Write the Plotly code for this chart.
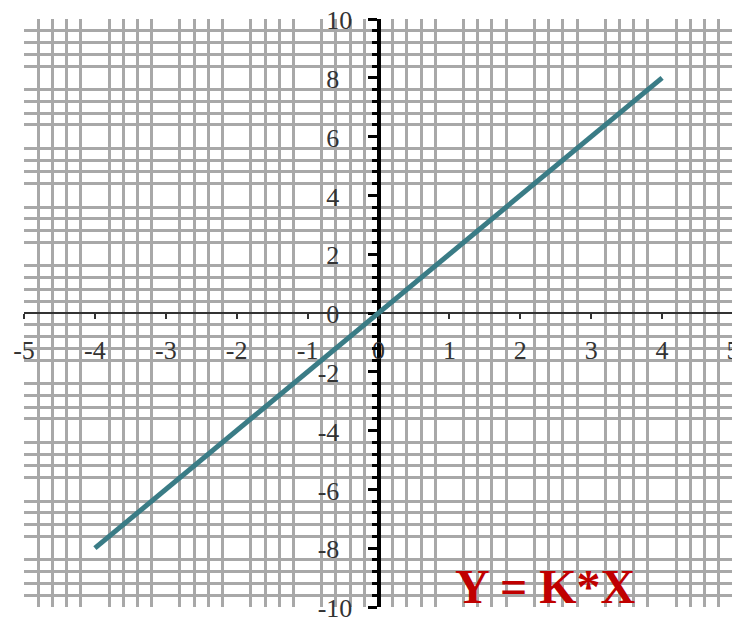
import plotly.graph_objects as go

# line data
x_vals = [-4, 4]
y_vals = [-8, 8]

# axis ticks
x_ticks = [-5, -4, -3, -2, -1, 0, 1, 2, 3, 4, 5]
x_labels = ["-5", "-4", "-3", "-2", "-1", "0", "1", "2", "3", "4", "5"]
y_ticks = [-10, -8, -6, -4, -2, 0, 2, 4, 6, 8, 10]
# en spaces pad single digits so labels line up on their left edge
y_labels = ["-10", "-8\u2002", "-6\u2002", "-4\u2002", "-2\u2002", "0\u2002",
            "2\u2002", "4\u2002", "6\u2002", "8\u2002", "10"]

title_text = "Y = K*X"

# minor grid: every 0.2 on x, every 0.4 on y, skipping the labelled ticks
x_minor = [round(i * 0.2, 1) for i in range(-25, 26) if i % 5]
y_minor = [round(i * 0.4, 1) for i in range(-25, 26) if i % 5]

serif = "Liberation Serif"
grid_col = "#a8a8a8"

fig = go.Figure()
fig.add_trace(go.Scatter(
    x=x_vals, y=y_vals, mode="lines",
    line=dict(color="#3a7c86", width=5),
    showlegend=False, hoverinfo="skip",
))

# the page body adds an 8px offset, so the figure is 8px smaller each way
fig.update_layout(
    width=732, height=614,
    margin=dict(l=16, r=7, t=11, b=15),
    paper_bgcolor="white", plot_bgcolor="white",
    xaxis=dict(
        range=[-5, 5], anchor="free", position=0.5, automargin=False,
        tickmode="array", tickvals=x_ticks, ticktext=x_labels,
        ticks="outside", ticklen=5, tickwidth=1.5, tickcolor="#333333",
        showline=True, linecolor="#333333", linewidth=2,
        showgrid=False, zeroline=False,
        tickfont=dict(family=serif, size=26, color="#333333"),
        ticklabelstandoff=9, ticklabeloverflow="allow",
        minor=dict(tickmode="array", tickvals=x_minor, showgrid=True,
                   gridcolor=grid_col, gridwidth=2.5, ticks=""),
        layer="below traces",
    ),
    yaxis=dict(
        range=[-10, 10], anchor="free", position=0.5, automargin=False,
        tickmode="array", tickvals=y_ticks, ticktext=y_labels,
        ticks="outside", ticklen=9, tickwidth=3, tickcolor="black",
        showline=True, linecolor="black", linewidth=4,
        showgrid=False, zeroline=False,
        tickfont=dict(family=serif, size=26, color="#333333"),
        ticklabelstandoff=10, ticklabelshift=1, ticklabeloverflow="allow",
        minor=dict(tickmode="array", tickvals=y_minor, showgrid=True,
                   gridcolor=grid_col, gridwidth=2.5, ticks="outside",
                   ticklen=5, tickwidth=3, tickcolor="black"),
        layer="below traces",
    ),
    annotations=[dict(
        text="<b>" + title_text + "</b>", xref="paper", yref="paper",
        x=0.735, y=0.035, xanchor="center", yanchor="middle", showarrow=False,
        font=dict(family=serif, size=48, color="#c00000"),
    )],
)

fig.write_html("out.html")
